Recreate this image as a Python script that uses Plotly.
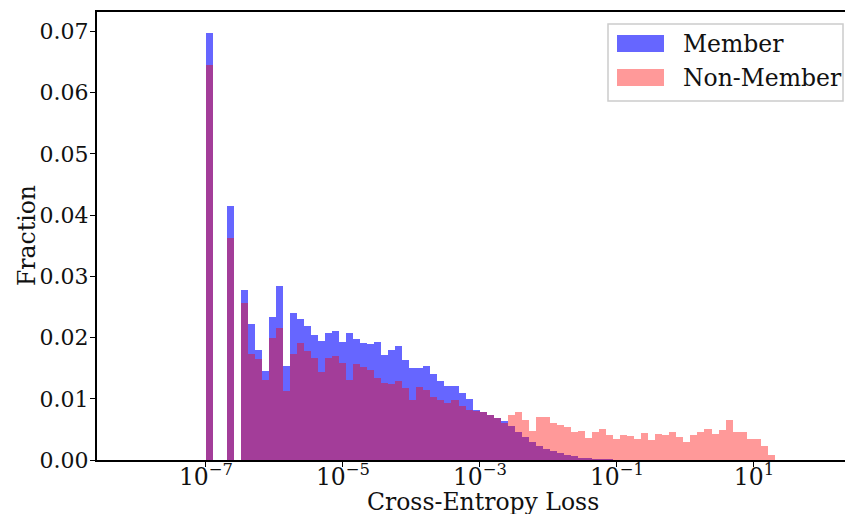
import numpy as np
import plotly.graph_objects as go

# Histogram bins (log10 of cross-entropy loss)
bin_start = -7.007
bin_width = 0.1026
n_bins = 81

member = [
    0.0697, 0.0, 0.0, 0.0415, 0.0, 0.0278, 0.0222, 0.0179, 0.0145, 0.0233,
    0.0284, 0.0154, 0.0240, 0.0231, 0.0219, 0.0205, 0.0195, 0.0208, 0.0210, 0.0192,
    0.0208, 0.0198, 0.0191, 0.0189, 0.0193, 0.0172, 0.0180, 0.0186, 0.0163, 0.0151,
    0.0151, 0.0154, 0.0141, 0.0129, 0.0121, 0.0121, 0.0110, 0.0100, 0.0082, 0.0078,
    0.0073, 0.0068, 0.0063, 0.0055, 0.0046, 0.0038, 0.0030, 0.0023, 0.0018, 0.0014,
    0.0011, 0.0008, 0.0006, 0.0004, 0.0003, 0.0002, 0.0001, 0.0001, 0.0, 0.0,
    0.0, 0.0, 0.0, 0.0, 0.0, 0.0, 0.0, 0.0, 0.0, 0.0,
    0.0, 0.0, 0.0, 0.0, 0.0, 0.0, 0.0, 0.0, 0.0, 0.0,
    0.0,
]

non_member = [
    0.0645, 0.0, 0.0, 0.0363, 0.0, 0.0257, 0.0173, 0.0165, 0.0130, 0.0200,
    0.0215, 0.0113, 0.0173, 0.0191, 0.0178, 0.0166, 0.0144, 0.0166, 0.0170, 0.0158,
    0.0130, 0.0157, 0.0152, 0.0147, 0.0134, 0.0126, 0.0125, 0.0129, 0.0118, 0.0098,
    0.0119, 0.0114, 0.0103, 0.0098, 0.0093, 0.0098, 0.0088, 0.0082, 0.0080, 0.0079,
    0.0074, 0.0068, 0.0060, 0.0074, 0.0079, 0.0066, 0.0047, 0.0070, 0.0071, 0.0060,
    0.0057, 0.0054, 0.0045, 0.0047, 0.0036, 0.0045, 0.0050, 0.0041, 0.0035, 0.0041,
    0.0040, 0.0034, 0.0044, 0.0033, 0.0042, 0.0041, 0.0046, 0.0038, 0.0030, 0.0041,
    0.0045, 0.0051, 0.0042, 0.0049, 0.0066, 0.0046, 0.0045, 0.0035, 0.0035, 0.0023,
    0.0008,
]

tick_vals = [-7, -5, -3, -1, 1]
tick_text = ["10<sup>\u22127</sup>", "10<sup>\u22125</sup>", "10<sup>\u22123</sup>",
             "10<sup>\u22121</sup>", "10<sup>1</sup>"]
y_ticks = [0.00, 0.01, 0.02, 0.03, 0.04, 0.05, 0.06, 0.07]

centers = bin_start + bin_width * (np.arange(n_bins) + 0.5)

FONT = "DejaVu Serif"
FS = 23.5
TXT = "#111111"
blue = "rgba(0,0,255,0.6)"
red = "rgba(255,0,0,0.4)"

fig = go.Figure()
fig.add_trace(go.Bar(x=centers, y=member, width=bin_width, name="Member",
                     marker=dict(color=blue, line=dict(width=0)), showlegend=False))
fig.add_trace(go.Bar(x=centers, y=non_member, width=bin_width, name="Non-Member",
                     marker=dict(color=red, line=dict(width=0)), showlegend=False))

fig.update_layout(
    width=845, height=514,
    margin=dict(l=97, r=0, t=12, b=54),
    plot_bgcolor="white", paper_bgcolor="white",
    barmode="overlay", bargap=0,
    font=dict(family=FONT, size=FS, color=TXT),
    xaxis=dict(range=[-8.591, 2.329], tickvals=tick_vals, ticktext=tick_text,
               showgrid=False, zeroline=False, showline=True, linecolor="black",
               linewidth=2, mirror=True, ticks="outside", ticklen=5, tickwidth=1,
               tickcolor="black", tickfont=dict(size=FS), automargin=False,
               ticklabelstandoff=-10),
    yaxis=dict(range=[0, 0.0732], tickvals=y_ticks, tickformat=".2f",
               showgrid=False, zeroline=False, showline=True, linecolor="black",
               linewidth=2, ticks="outside", ticklen=5, tickwidth=1,
               tickcolor="black", tickfont=dict(size=22), automargin=False,
               ticklabelstandoff=-3),
)

W, H = 748.0, 448.0
def px(xp):
    return (xp - 97) / W
def py(yp):
    return (460 - yp) / H

# Axis titles
fig.add_annotation(xref="paper", yref="paper", x=px(483), y=py(502), text="Cross-Entropy Loss",
                   showarrow=False, xanchor="center", yanchor="middle",
                   font=dict(family=FONT, size=FS, color=TXT))
fig.add_annotation(xref="paper", yref="paper", x=px(27), y=py(236), text="Fraction",
                   showarrow=False, xanchor="center", yanchor="middle", textangle=-90,
                   font=dict(family=FONT, size=FS, color=TXT))

# Legend box (drawn in paper coordinates)
fig.add_shape(type="rect", xref="paper", yref="paper",
              x0=px(608), x1=px(843), y0=py(101), y1=py(24),
              line=dict(color="#cccccc", width=1.5), fillcolor="rgba(255,255,255,0.8)")
fig.add_shape(type="rect", xref="paper", yref="paper",
              x0=px(617), x1=px(664), y0=py(52), y1=py(35),
              line=dict(width=0), fillcolor=blue)
fig.add_shape(type="rect", xref="paper", yref="paper",
              x0=px(617), x1=px(664), y0=py(86), y1=py(69),
              line=dict(width=0), fillcolor=red)
fig.add_annotation(xref="paper", yref="paper", x=px(681), y=py(44), text="Member",
                   showarrow=False, xanchor="left", yanchor="middle",
                   font=dict(family=FONT, size=FS, color=TXT))
fig.add_annotation(xref="paper", yref="paper", x=px(681), y=py(78), text="Non-Member",
                   showarrow=False, xanchor="left", yanchor="middle",
                   font=dict(family=FONT, size=FS, color=TXT))

fig.write_html("out.html", config={"displayModeBar": False},
               post_script="document.body.style.margin='0px';document.body.style.overflow='hidden';")
